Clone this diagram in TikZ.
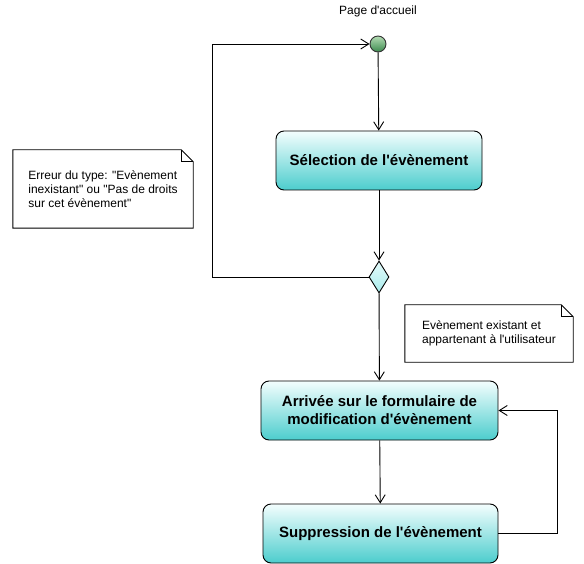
\documentclass[tikz,border=0pt]{standalone}
\usepackage{fontspec}
\setmainfont{Liberation Sans}[Ligatures=TeXOff]
\usetikzlibrary{arrows.meta,shapes.geometric,positioning}

\definecolor{acttop}{HTML}{F4FEFE}
\definecolor{actbot}{HTML}{4CCDCD}
\definecolor{dectop}{HTML}{E4FAFA}
\definecolor{decbot}{HTML}{A8ECEC}
\definecolor{inittop}{HTML}{B4DCB4}
\definecolor{initbot}{HTML}{3C8A4E}

\tikzset{
  activity/.style={rectangle, rounded corners=8pt, draw=black, line width=0.9pt,
    top color=acttop, bottom color=actbot, align=center,
    font=\bfseries\fontsize{15}{18}\selectfont, minimum height=59pt},
  decision/.style={diamond, draw=black, line width=0.9pt, top color=dectop,
    bottom color=decbot, minimum width=20pt, minimum height=32pt, inner sep=0pt},
  initial/.style={circle, draw=black!80, line width=0.9pt, top color=inittop,
    bottom color=initbot, minimum size=16pt, inner sep=0pt},
  note/.style={rectangle, align=left, inner sep=0pt,
    font=\fontsize{12}{14}\selectfont},
  flow/.style={line width=0.9pt, -{Straight Barb[length=8pt,width=10pt]}},
}

\begin{document}
\begin{tikzpicture}[x=1pt,y=-1pt]
  \useasboundingbox (0,0) rectangle (584,564);
  %NODES
  \node[font=\fontsize{12}{14}\selectfont] (title) at (378,11) {Page d'accueil};
  \node[initial] (start) at (378,44) {};
  \node[activity, minimum width=206pt] (select) at (379,160.5) {Sélection de l'évènement};
  \node[decision] (choice) at (379,277) {};
  \node[activity, minimum width=237pt] (arrive) at (379.5,410.5) {Arrivée sur le formulaire de\\modification d'évènement};
  \node[activity, minimum width=235pt] (delete) at (380.5,533.5) {Suppression de l'évènement};

  %NOTES
  \node[note, minimum width=180pt, minimum height=78pt] (errnote) at (103,189)
    {Erreur du type: "Evènement\\inexistant" ou "Pas de droits\\sur cet évènement"};
  \node[note, minimum width=168pt, minimum height=57pt] (oknote) at (489,333.5)
    {Evènement existant et\\appartenant à l'utilisateur};
  \foreach \n in {errnote,oknote}{
    \draw[line width=0.9pt] (\n.north west) -- ([xshift=-12pt]\n.north east)
      -- ([yshift=-12pt]\n.north east) -- (\n.south east) -- (\n.south west) -- cycle;
    \draw[line width=0.9pt] ([xshift=-12pt]\n.north east) |- ([yshift=-12pt]\n.north east);
  }

  %FLOWS
  \coordinate (backL) at (212,0);
  \coordinate (backR) at (557,0);
  \draw[flow] (start) -- (select);
  \draw[flow] (select) -- (choice);
  \draw[flow] (choice) -- (arrive);
  \draw[flow] (arrive) -- (delete);
  \draw[flow] (choice.west) -- (choice.west -| backL) |- (start.west);
  \draw[flow] (delete.east) -- (delete.east -| backR) |- (arrive.east);
\end{tikzpicture}
\end{document}
